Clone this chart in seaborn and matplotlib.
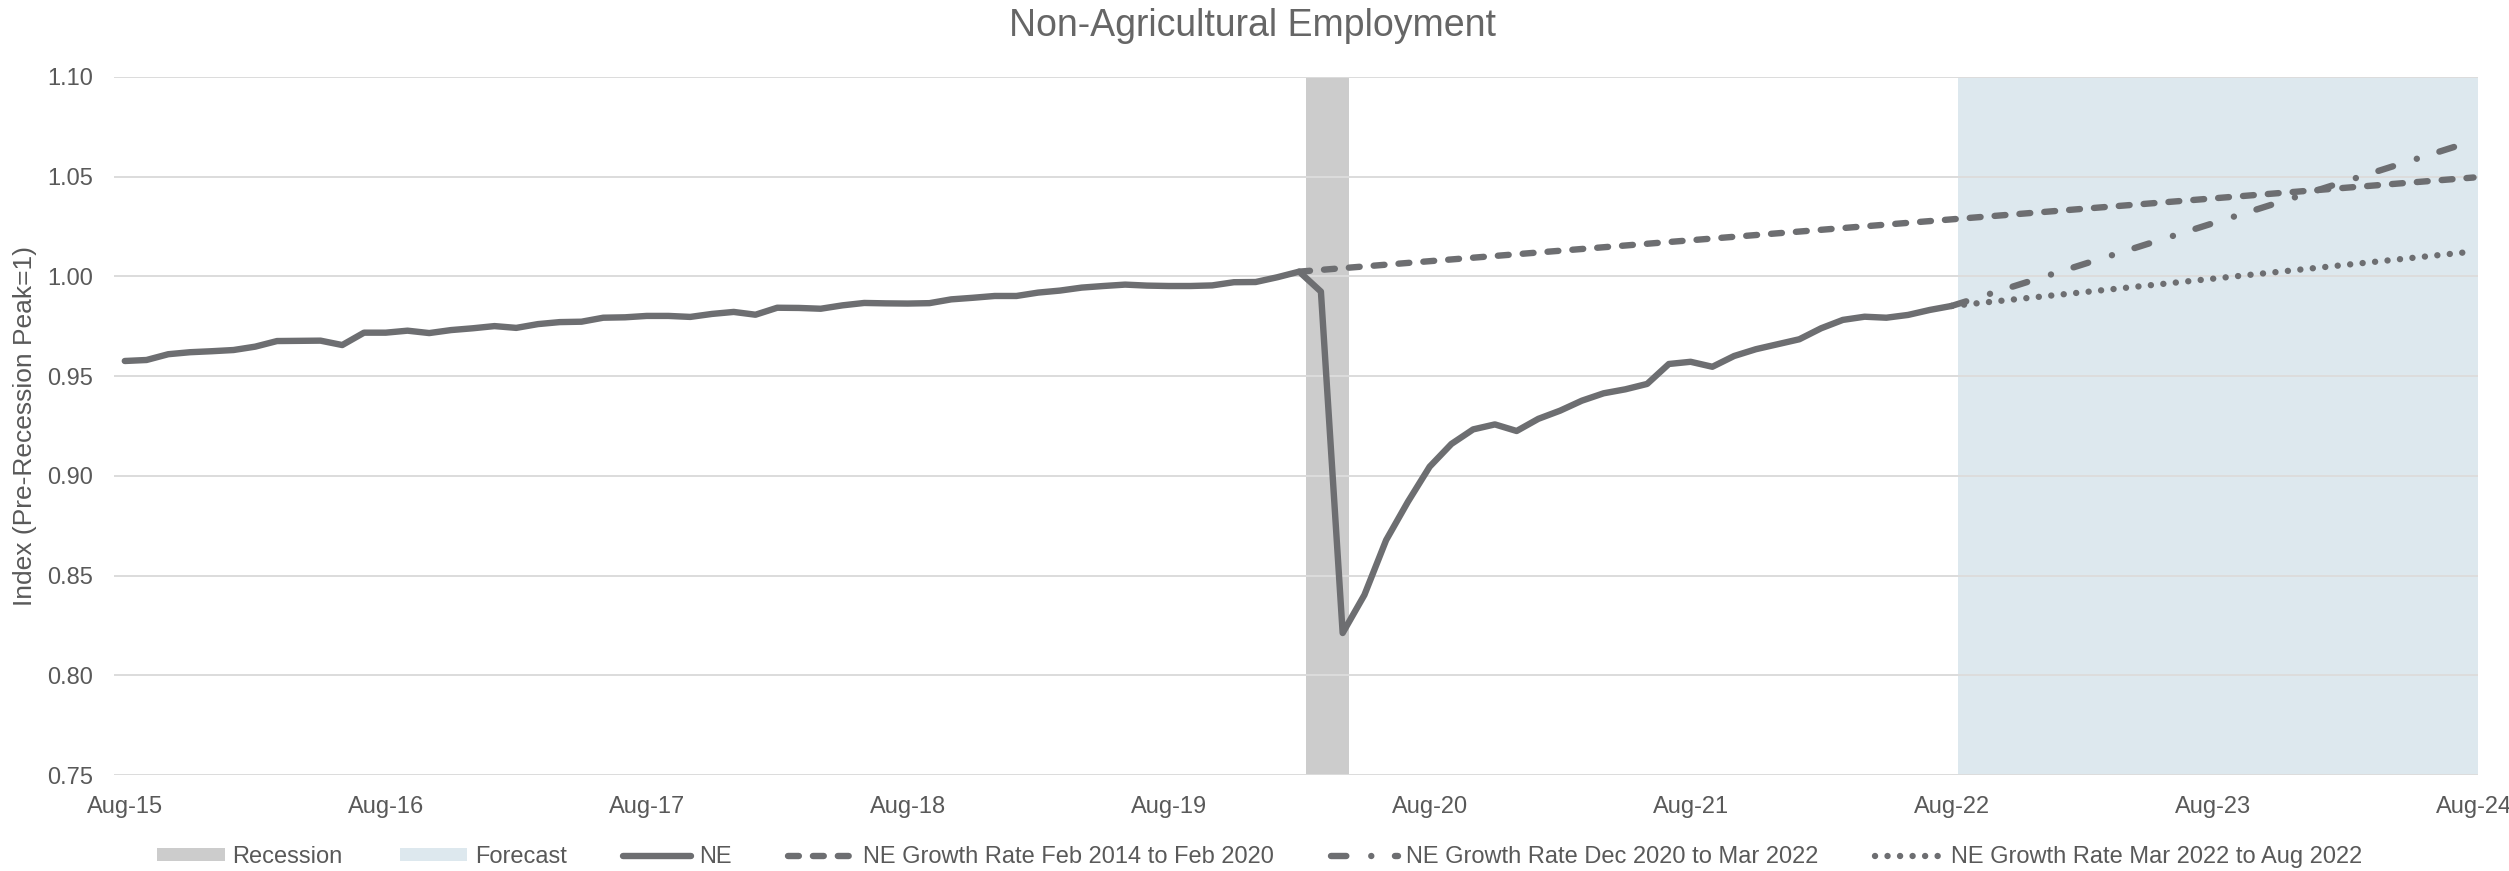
import numpy as np
import pandas as pd
import matplotlib
matplotlib.use("Agg")
import matplotlib.pyplot as plt
from matplotlib.patches import Patch
from matplotlib.lines import Line2D
import seaborn as sns

# ---- data -------------------------------------------------------------
ne_dates = pd.date_range("2015-08-01", "2022-08-01", freq="MS")
ne_values = [
    0.9576, 0.9581, 0.9610, 0.9620, 0.9625, 0.9631, 0.9648, 0.9676, 0.9677, 0.9678,
    0.9656, 0.9718, 0.9718, 0.9728, 0.9716, 0.9731, 0.9740, 0.9751, 0.9742, 0.9761,
    0.9771, 0.9773, 0.9793, 0.9795, 0.9802, 0.9802, 0.9797, 0.9812, 0.9822, 0.9808,
    0.9843, 0.9842, 0.9838, 0.9855, 0.9867, 0.9865, 0.9864, 0.9866, 0.9885, 0.9893,
    0.9902, 0.9902, 0.9919, 0.9929, 0.9944, 0.9952, 0.9959, 0.9954, 0.9952, 0.9952,
    0.9955, 0.9971, 0.9972, 0.9996, 1.0024, 0.9924, 0.8212, 0.8403, 0.8678, 0.8870,
    0.9046, 0.9160, 0.9233, 0.9258, 0.9225, 0.9286, 0.9327, 0.9377, 0.9414, 0.9434,
    0.9461, 0.9561, 0.9572, 0.9547, 0.9601, 0.9635, 0.9660, 0.9685, 0.9740, 0.9782,
    0.9798, 0.9793, 0.9807, 0.9832, 0.9852,
]

trend_pre_dates = ["2020-02-01", "2024-08-01"]
trend_pre_values = [1.0024, 1.0496]          # Feb 2014 to Feb 2020 growth rate
trend_rec_dates = ["2022-08-01", "2024-08-01"]
trend_rec_values = [0.9852, 1.0680]          # Dec 2020 to Mar 2022 growth rate
trend_recent_dates = ["2022-08-01", "2024-08-01"]
trend_recent_values = [0.9852, 1.0125]       # Mar 2022 to Aug 2022 growth rate

recession_period = ("2020-02-01", "2020-04-01")
forecast_period = ("2022-08-01", "2024-08-01")

tick_dates = pd.date_range("2015-08-01", "2024-08-01", freq="12MS")
tick_labels = [d.strftime("%b-%y") for d in tick_dates]
y_ticks = [0.75, 0.80, 0.85, 0.90, 0.95, 1.00, 1.05, 1.10]

# ---- helpers ----------------------------------------------------------
ORIGIN = pd.Timestamp("2015-08-01")


def month_index(dates):
    d = pd.to_datetime(pd.Series(dates))
    return ((d.dt.year - ORIGIN.year) * 12 + (d.dt.month - ORIGIN.month)).to_numpy(float)


# ---- style ------------------------------------------------------------
sns.set_theme(style="white")
plt.rcParams["font.family"] = ["Liberation Sans", "DejaVu Sans"]
TEXT = "#595959"
LINE = "#6d6e71"
REC_COLOR = "#cccccc"
FC_COLOR = "#dde8ee"
GRID = "#dcdcdc"
LW = 4.6

fig = plt.figure(figsize=(25.09, 8.71), dpi=100)
ax = fig.add_axes([0.0454, 0.1102, 0.9422, 0.8014])

# shaded periods (column-style bands offset into the month)
band_shift = 0.3
rs, re_ = month_index(list(recession_period))
ax.axvspan(rs + band_shift, re_ + band_shift, color=REC_COLOR, lw=0, zorder=0.1)
fs, fe = month_index(list(forecast_period))
ax.axvspan(fs + band_shift, fe + band_shift, color=FC_COLOR, lw=0, zorder=0.1)

# series
ne_df = pd.DataFrame({"m": month_index(ne_dates), "v": ne_values})
sns.lineplot(data=ne_df, x="m", y="v", ax=ax, color=LINE, lw=LW,
             solid_capstyle="round", solid_joinstyle="round", zorder=5)

dash_pre = (0, (1.7, 2.2))
dash_rec = (0, (2.4, 3.9, 0.01, 3.7))
dash_recent = (0, (0.01, 1.95))

sns.lineplot(x=month_index(trend_pre_dates), y=trend_pre_values, ax=ax, color=LINE,
             lw=LW, linestyle=dash_pre, dash_capstyle="round", zorder=4)
sns.lineplot(x=month_index(trend_rec_dates), y=trend_rec_values, ax=ax, color=LINE,
             lw=LW, linestyle=dash_rec, dash_capstyle="round", zorder=4)
sns.lineplot(x=month_index(trend_recent_dates), y=trend_recent_values, ax=ax, color=LINE,
             lw=LW, linestyle=dash_recent, dash_capstyle="round", zorder=4)

# axes
ax.set_xlim(-0.5, 108.2)
ax.set_ylim(0.75, 1.10)
ax.set_xticks(month_index(tick_dates))
ax.set_xticklabels(tick_labels)
ax.set_yticks(y_ticks)
ax.set_yticklabels([f"{v:.2f}" for v in y_ticks])
ax.tick_params(axis="x", length=0, pad=15, labelsize=17, labelcolor=TEXT)
ax.tick_params(axis="y", length=0, pad=15, labelsize=17, labelcolor=TEXT)
ax.set_xlabel("")
ax.set_ylabel("Index (Pre-Recession Peak=1)", fontsize=19, color=TEXT)
ax.yaxis.set_label_coords(-0.0326, 0.5)

ax.set_axisbelow(True)
ax.yaxis.grid(True, color=GRID, lw=1.4)
ax.xaxis.grid(False)
for s in ax.spines.values():
    s.set_visible(False)
ax.patch.set_alpha(0)

fig.text(0.4994, 1 - 26 / 871, "Non-Agricultural Employment", ha="center", va="center",
         fontsize=27, color="#666666")

handles = [
    Patch(facecolor=REC_COLOR, edgecolor="none", label="Recession"),
    Patch(facecolor=FC_COLOR, edgecolor="none", label="Forecast"),
    Line2D([], [], color=LINE, lw=LW, solid_capstyle="round", label="NE"),
    Line2D([], [], color=LINE, lw=LW, linestyle=dash_pre, dash_capstyle="round",
           label="NE Growth Rate Feb 2014 to Feb 2020"),
    Line2D([], [], color=LINE, lw=LW, linestyle=dash_rec, dash_capstyle="round",
           label="NE Growth Rate Dec 2020 to Mar 2022"),
    Line2D([], [], color=LINE, lw=LW, linestyle=dash_recent, dash_capstyle="round",
           label="NE Growth Rate Mar 2022 to Aug 2022"),
]
leg = fig.legend(handles=handles, loc="center", bbox_to_anchor=(0.502, 0.016), ncol=6,
                 frameon=False, fontsize=17, handlelength=2.85, handleheight=0.5,
                 handletextpad=0.34, columnspacing=2.4)
for t in leg.get_texts():
    t.set_color(TEXT)

fig.savefig("out.png", dpi=100)
